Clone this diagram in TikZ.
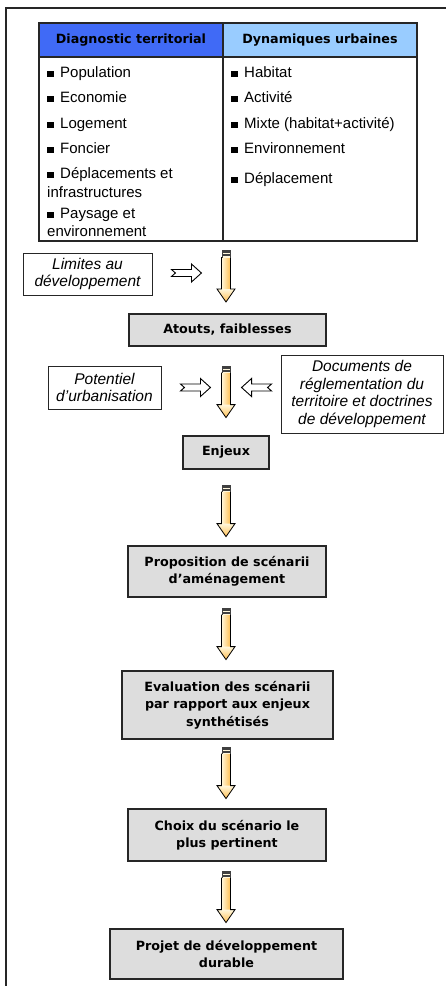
\documentclass[tikz,border=0pt]{standalone}
\usepackage{fontspec}
\setmainfont{Liberation Sans}
\newfontfamily\boxfont{DejaVu Sans}
\usetikzlibrary{calc}
\definecolor{hdA}{RGB}{64,106,246}
\definecolor{hdB}{RGB}{153,204,255}
\definecolor{gbox}{RGB}{221,221,221}
\definecolor{cream}{RGB}{255,247,220}
\definecolor{orng}{RGB}{255,190,80}
\newcommand\sqb{\rule{6.5pt}{6.5pt}\hspace{6.5pt}}
\tikzset{
  frameline/.style={line width=1.4pt, draw=black!85},
  graybox/.style={draw=black!85, line width=1.2pt, fill=gbox, inner sep=0pt, align=center,
    font=\boxfont\bfseries\fontsize{12.7}{17.5}\selectfont},
  notebox/.style={draw=black!85, line width=0.9pt, fill=white, inner sep=0pt, align=center,
    font=\itshape\fontsize{15.5}{17.7}\selectfont},
  item/.style={anchor=base west, inner sep=0pt, font=\fontsize{15}{18}\selectfont},
  hdr/.style={inner sep=0pt, font=\boxfont\bfseries\fontsize{12.7}{15}\selectfont},
  openarrow/.style={draw=black, line width=0.9pt, fill=white, line join=miter},
}
\newcommand\dnarrow[1]{%
  \shade[left color=cream, right color=orng] ($(#1)+(-4.5,7)$) rectangle ($(#1)+(4.5,39.5)$);
  \shade[top color=cream, bottom color=orng] ($(#1)+(-9,39)$) -- ($(#1)+(9,39)$) -- ($(#1)+(0,52)$) -- cycle;
  \draw[line width=0.8pt, line join=miter] ($(#1)+(-4.5,7)$) -- ($(#1)+(-4.5,39)$) -- ($(#1)+(-9,39)$)
     -- ($(#1)+(0,52)$) -- ($(#1)+(9,39)$) -- ($(#1)+(4.5,39)$) -- ($(#1)+(4.5,7)$);
  \fill[black!75] ($(#1)+(-4.5,0)$) rectangle ($(#1)+(4.5,7.5)$);
  \fill[cream] ($(#1)+(-3.5,3)$) rectangle ($(#1)+(3.5,4.3)$);
  \fill[cream] ($(#1)+(-3.5,6.2)$) rectangle ($(#1)+(3.5,7.5)$);
}
\newcommand\openarr[2]{%
  \begin{scope}[shift={(#1)}, xscale=#2]
    \draw[openarrow] (0,-3.5) -- (20,-3.5) -- (20,-9) -- (30,0) -- (20,9) -- (20,3.5) -- (0,3.5) -- (4,0) -- cycle;
  \end{scope}
}
\begin{document}
\begin{tikzpicture}[x=1pt, y=-1pt]
\useasboundingbox (0,0) rectangle (446,986);
\fill[white] (0,0) rectangle (446,986);
% outer frame
\draw[frameline] (446,8) -- (6,8) -- (6,986);

% table
\fill[hdA] (39,23) rectangle (223,57);
\fill[hdB] (223,23) rectangle (417,57);
\node[hdr] (h1) at (131,40) {Diagnostic territorial};
\node[hdr] (h2) at (320,40) {Dynamiques urbaines};
\draw[line width=1.5pt, draw=black!85] (39,23) rectangle (417,241);
\draw[line width=1.5pt, draw=black!85] (39,57) -- (417,57);
\draw[line width=1.5pt, draw=black!85] (223,23) -- (223,241);
\coordinate (tab) at (226,241);

\node[item] (l1) at (47,77) {\sqb Population};
\node[item] (l2) at (47,102) {\sqb Economie};
\node[item] (l3) at (47,128) {\sqb Logement};
\node[item] (l4) at (47,153) {\sqb Foncier};
\node[item] (l5) at (47,178) {\sqb Déplacements et};
\node[item] (l5b) at (47,197) {infrastructures};
\node[item] (l6) at (47,218) {\sqb Paysage et};
\node[item] (l6b) at (47,236) {environnement};

\node[item] (r1) at (231,77) {\sqb Habitat};
\node[item] (r2) at (231,102) {\sqb Activité};
\node[item] (r3) at (231,128) {\sqb Mixte (habitat+activité)};
\node[item] (r4) at (231,153) {\sqb Environnement};
\node[item] (r5) at (231,183) {\sqb Déplacement};

% side notes
\node[notebox, minimum width=129pt, minimum height=42pt] (lim) at (87.5,274) {Limites au\\développement};
\node[notebox, minimum width=113pt, minimum height=43pt] (pot) at (104.5,387.5) {Potentiel\\d’urbanisation};
\node[notebox, minimum width=162pt, minimum height=78pt] (docs) at (362,394) {Documents de\\réglementation du\\territoire et doctrines\\de développement};

% main boxes
\node[graybox, minimum width=197pt, minimum height=32pt] (atouts) at (227.5,330) {Atouts, faiblesses};
\node[graybox, minimum width=86pt, minimum height=33pt] (enjeux) at (226,452.5) {Enjeux};
\node[graybox, minimum width=198pt, minimum height=51pt] (prop) at (227,571.5) {Proposition de scénarii\\d’aménagement};
\node[graybox, minimum width=211pt, minimum height=68pt] (eval) at (227.5,705) {Evaluation des scénarii\\par rapport aux enjeux\\synthétisés};
\node[graybox, minimum width=198pt, minimum height=52pt] (choix) at (227,835) {Choix du scénario le\\plus pertinent};
\node[graybox, minimum width=233pt, minimum height=50pt] (projet) at (226.5,954) {Projet de développement\\durable};

% down arrows
\coordinate (a1) at ($(tab)+(0,9)$);
\coordinate (a2) at ($(atouts.south)+(-1.5,19)$);
\coordinate (a3) at ($(enjeux.south)+(0,15)$);
\coordinate (a4) at ($(prop.south)+(-1,10)$);
\coordinate (a5) at ($(eval.south)+(-1.5,7)$);
\coordinate (a6) at ($(choix.south)+(-1,9)$);
\dnarrow{a1}
\dnarrow{a2}
\dnarrow{a3}
\dnarrow{a4}
\dnarrow{a5}
\dnarrow{a6}

% open side arrows
\coordinate (o1) at ($(lim.east)+(19,-1)$);
\coordinate (o2) at ($(pot.east)+(19,0)$);
\coordinate (o3) at ($(docs.west)+(-9,-6.5)$);
\openarr{o1}{1}
\openarr{o2}{1}
\openarr{o3}{-1}
\end{tikzpicture}
\end{document}
